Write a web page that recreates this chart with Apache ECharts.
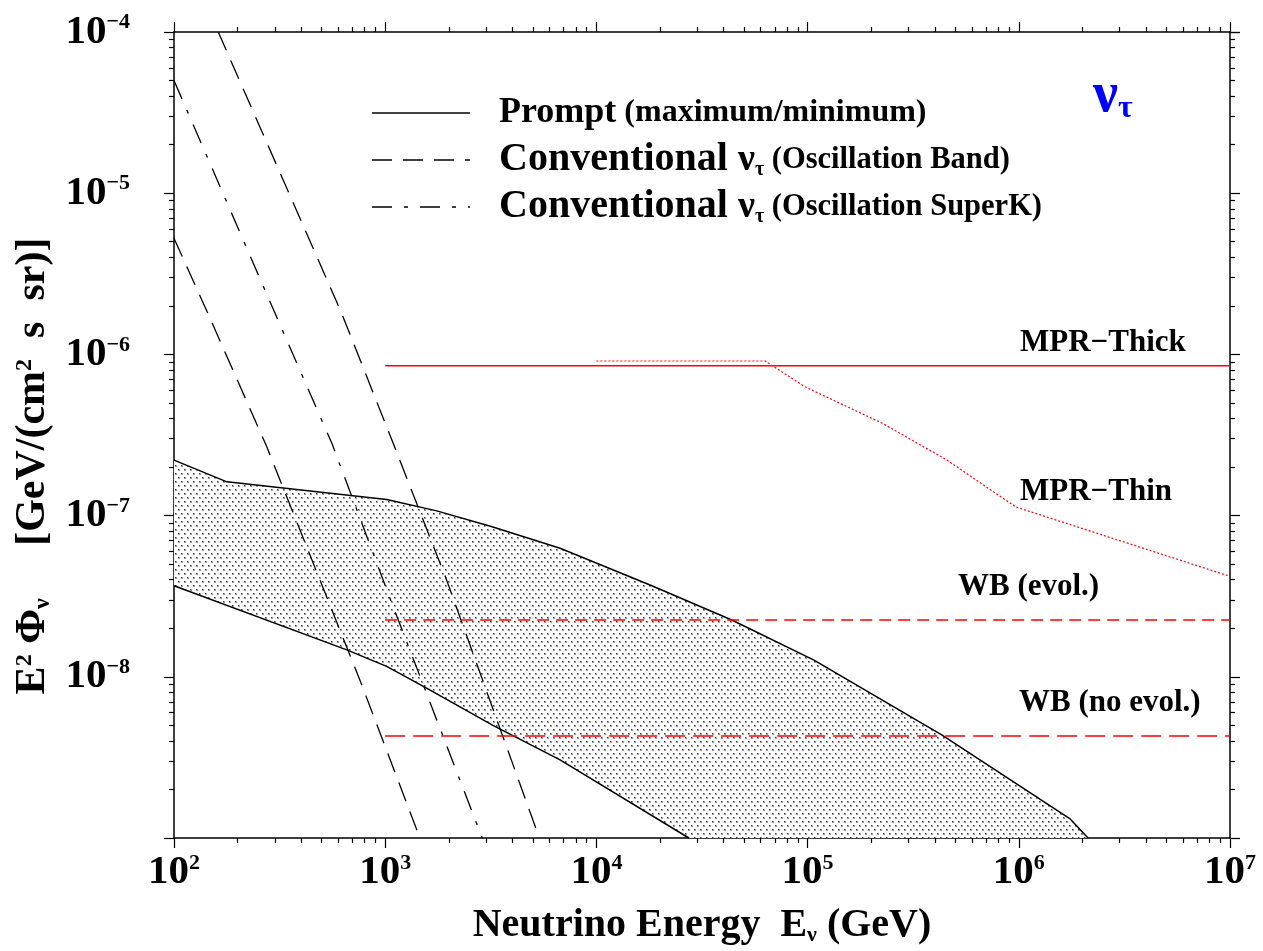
<!DOCTYPE html>
<html>
<head>
<meta charset="utf-8">
<script src="https://cdn.jsdelivr.net/npm/echarts@6/dist/echarts.min.js"></script>
<style>
html,body{margin:0;padding:0;background:#fff;}
#chart{width:1263px;height:951px;}
</style>
</head>
<body>
<div id="chart"></div>
<script>
// ---------------- data ----------------
// Prompt flux band: upper (maximum) and lower (minimum) boundaries
const promptMaxE    = [100, 178, 1016, 1754, 3236, 6730, 17950, 43750, 107200, 431500, 1742000, 2128000];
const promptMaxFlux = [2.21e-7, 1.62e-7, 1.26e-7, 1.07e-7, 8.5e-8, 6.27e-8, 3.71e-8, 2.25e-8, 1.27e-8, 4.36e-9, 1.32e-9, 1.0e-9];
const promptMinE    = [100, 658, 1016, 1570, 3236, 6730, 27400];
const promptMinFlux = [3.67e-8, 1.47e-8, 1.16e-8, 8.5e-9, 5.0e-9, 3.05e-9, 1.0e-9];

// Conventional nu_tau (oscillation band: lower and upper edges)
const convBandLowE     = [100, 148, 275, 760, 1460];
const convBandLowFlux  = [5.25e-6, 1.68e-6, 2.67e-7, 9.5e-9, 1.0e-9];
const convBandHighE    = [162, 622, 1091, 1954, 5370];
const convBandHighFlux = [1.0e-4, 1.8e-6, 2.81e-7, 3.98e-8, 1.0e-9];
// Conventional nu_tau (oscillation SuperK)
const convSuperKE    = [100, 306, 559, 1091, 2880];
const convSuperKFlux = [5.0e-5, 1.71e-6, 2.81e-7, 2.72e-8, 1.0e-9];

// Bounds
const mprThickE    = [1e3, 1e7];
const mprThickFlux = [8.5e-7, 8.5e-7];
const mprThinE     = [1e4, 6.3e4, 9.7e4, 2.25e5, 4.57e5, 9.7e5, 1e7];
const mprThinFlux  = [9.1e-7, 9.1e-7, 6.3e-7, 3.75e-7, 2.21e-7, 1.13e-7, 4.2e-8];
const wbEvolE      = [1e3, 1e7];
const wbEvolFlux   = [2.25e-8, 2.25e-8];
const wbNoEvolE    = [1e3, 1e7];
const wbNoEvolFlux = [4.3e-9, 4.3e-9];

// Axis ranges and minor tick positions (log10 units, 2..9 within each decade)
const xDecades = [2, 3, 4, 5, 6];
const yDecades = [-9, -8, -7, -6, -5];
const minorMultipliers = [2, 3, 4, 5, 6, 7, 8, 9];

// -----------------------------------------------------------------
const FONT = '"Liberation Serif", "Times New Roman", serif';
const pairs = (xs, ys) => xs.map((x, i) => [x, ys[i]]);
const xMinor = [];
xDecades.forEach(d => minorMultipliers.forEach(m => xMinor.push(d + Math.log10(m))));
const yMinor = [];
yDecades.forEach(d => minorMultipliers.forEach(m => yMinor.push(d + Math.log10(m))));

// dotted fill pattern
const tile = document.createElement('canvas');
tile.width = 6; tile.height = 8;
const tc = tile.getContext('2d');
tc.fillStyle = '#ffffff'; tc.fillRect(0, 0, 6, 8);
function dot(x, y) {
  tc.fillStyle = '#9a9a9a'; tc.fillRect(x, y, 2, 2);
  tc.fillStyle = '#3c3c3c'; tc.fillRect(x, y, 1, 1);
}
dot(1, 1); dot(4, 5);
const pattern = { image: tile, repeat: 'repeat' };

const chart = echarts.init(document.getElementById('chart'), null, { renderer: 'canvas' });

const axisLineStyle = { color: '#000', width: 1.5 };
const tickStyle = { color: '#000', width: 1.2 };

function majorLogAxis(pos, min, max, extra) {
  return Object.assign({
    type: 'log', logBase: 10, min: min, max: max, position: pos,
    axisLine: { show: true, onZero: false, lineStyle: axisLineStyle },
    axisTick: { show: true, inside: false, length: 10, lineStyle: tickStyle },
    minorTick: { show: false },
    splitLine: { show: false },
    minorSplitLine: { show: false },
    axisLabel: { show: false }
  }, extra || {});
}
function minorValueAxis(pos, min, max, ticks) {
  return {
    type: 'value', min: min, max: max, position: pos,
    axisLine: { show: false, onZero: false },
    axisTick: { show: true, inside: false, length: 5, lineStyle: tickStyle, customValues: ticks },
    axisLabel: { show: false },
    splitLine: { show: false }
  };
}

const labelRich = {
  b: { fontFamily: FONT, fontWeight: 'bold', fontSize: 41, color: '#000' },
  s: { fontFamily: FONT, fontWeight: 'bold', fontSize: 22, color: '#000', verticalAlign: 'top' }
};

const option = {
  animation: false,
  backgroundColor: '#fff',
  grid: { left: 174, right: 33, top: 32, bottom: 113, containLabel: false, outerBoundsMode: 'none' },
  xAxis: [
    majorLogAxis('bottom', 100, 1e7, {
      axisLabel: {
        show: true, margin: 14,
        formatter: v => '{b|10}{s|' + Math.round(Math.log10(v)) + '}',
        rich: labelRich
      },
      name: '{a|Neutrino Energy  E}{u|ν}{a| (GeV)}',
      nameLocation: 'middle', nameGap: 68,
      nameTextStyle: {
        rich: {
          a: { fontFamily: FONT, fontWeight: 'bold', fontSize: 40, color: '#000' },
          u: { fontFamily: FONT, fontWeight: 'bold', fontSize: 22, color: '#000', verticalAlign: 'bottom' }
        }
      }
    }),
    minorValueAxis('bottom', 2, 7, xMinor),
    majorLogAxis('top', 100, 1e7),
    minorValueAxis('top', 2, 7, xMinor)
  ],
  yAxis: [
    majorLogAxis('left', 1e-9, 1e-4, {
      axisLabel: {
        show: true, margin: 44,
        formatter: v => {
          const e = Math.round(Math.log10(v));
          if (e === -9) return '';
          return '{b|10}{s|\u2212' + (-e) + '}';
        },
        rich: labelRich
      },
      name: '{a|E}{s|2}{a| Φ}{u|ν}{a|     [GeV/(cm}{s|2}{a|  s  sr)]}',
      nameLocation: 'middle', nameGap: 110, nameRotate: 90,
      nameTextStyle: {
        padding: [0, 62, 0, 0],
        rich: {
          a: { fontFamily: FONT, fontWeight: 'bold', fontSize: 42, color: '#000' },
          s: { fontFamily: FONT, fontWeight: 'bold', fontSize: 24, color: '#000', verticalAlign: 'top' },
          u: { fontFamily: FONT, fontWeight: 'bold', fontSize: 24, color: '#000', verticalAlign: 'bottom' }
        }
      }
    }),
    minorValueAxis('left', -9, -4, yMinor),
    majorLogAxis('right', 1e-9, 1e-4),
    minorValueAxis('right', -9, -4, yMinor)
  ],
  series: [
    {
      name: 'Prompt band', type: 'custom', xAxisIndex: 0, yAxisIndex: 0, z: 1,
      data: [[promptMaxE[0], promptMaxFlux[0]]],
      renderItem: (params, api) => {
        const pts = [];
        promptMaxE.forEach((e, i) => pts.push(api.coord([e, promptMaxFlux[i]])));
        for (let i = promptMinE.length - 1; i >= 0; i--) pts.push(api.coord([promptMinE[i], promptMinFlux[i]]));
        return { type: 'polygon', shape: { points: pts }, style: { fill: pattern, stroke: null } };
      }
    },
    { name: 'Prompt max', type: 'line', xAxisIndex: 0, yAxisIndex: 0, z: 3, symbol: 'none',
      data: pairs(promptMaxE, promptMaxFlux), lineStyle: { color: '#000', width: 1.5 } },
    { name: 'Prompt min', type: 'line', xAxisIndex: 0, yAxisIndex: 0, z: 3, symbol: 'none',
      data: pairs(promptMinE, promptMinFlux), lineStyle: { color: '#000', width: 1.5 } },
    { name: 'Conv band low', type: 'line', xAxisIndex: 0, yAxisIndex: 0, z: 3, symbol: 'none',
      data: pairs(convBandLowE, convBandLowFlux), lineStyle: { color: '#000', width: 1.3, type: [20, 11] } },
    { name: 'Conv band high', type: 'line', xAxisIndex: 0, yAxisIndex: 0, z: 3, symbol: 'none',
      data: pairs(convBandHighE, convBandHighFlux), lineStyle: { color: '#000', width: 1.3, type: [20, 11] } },
    { name: 'Conv SuperK', type: 'line', xAxisIndex: 0, yAxisIndex: 0, z: 3, symbol: 'none',
      data: pairs(convSuperKE, convSuperKFlux), lineStyle: { color: '#000', width: 1.3, type: [20, 12, 4, 12] } },
    { name: 'MPR-Thick', type: 'line', xAxisIndex: 0, yAxisIndex: 0, z: 4, symbol: 'none',
      data: pairs(mprThickE, mprThickFlux), lineStyle: { color: '#ff0000', width: 1.5 } },
    { name: 'MPR-Thin', type: 'line', xAxisIndex: 0, yAxisIndex: 0, z: 4, symbol: 'none',
      data: pairs(mprThinE, mprThinFlux), lineStyle: { color: '#ff0000', width: 1.2, type: [2, 2] } },
    { name: 'WB (evol.)', type: 'line', xAxisIndex: 0, yAxisIndex: 0, z: 4, symbol: 'none',
      data: pairs(wbEvolE, wbEvolFlux), lineStyle: { color: '#ff0000', width: 1.5, type: [12, 7] } },
    { name: 'WB (no evol.)', type: 'line', xAxisIndex: 0, yAxisIndex: 0, z: 4, symbol: 'none',
      data: pairs(wbNoEvolE, wbNoEvolFlux), lineStyle: { color: '#ff0000', width: 1.5, type: [20, 8] } }
  ],
  graphic: [
    // legend samples
    { type: 'line', shape: { x1: 372, y1: 113, x2: 470, y2: 113 }, style: { stroke: '#000', lineWidth: 1.5 } },
    { type: 'line', shape: { x1: 372, y1: 160, x2: 470, y2: 160 }, style: { stroke: '#000', lineWidth: 1.3, lineDash: [20, 11] } },
    { type: 'line', shape: { x1: 372, y1: 207, x2: 470, y2: 207 }, style: { stroke: '#000', lineWidth: 1.3, lineDash: [20, 12, 4, 12] } },
    { type: 'text', x: 499, y: 113, style: {
        text: '{a|Prompt}{b| (maximum/minimum)}', verticalAlign: 'middle', align: 'left',
        rich: {
          a: { fontFamily: FONT, fontWeight: 'bold', fontSize: 36, fill: '#000' },
          b: { fontFamily: FONT, fontWeight: 'bold', fontSize: 32, fill: '#000' }
        } } },
    { type: 'text', x: 499, y: 160, style: {
        text: '{a|Conventional }{n|ν}{t|τ}{b| (Oscillation Band)}', verticalAlign: 'middle', align: 'left',
        rich: {
          a: { fontFamily: FONT, fontWeight: 'bold', fontSize: 40, fill: '#000' },
          n: { fontFamily: FONT, fontWeight: 'bold', fontSize: 38, fill: '#000' },
          t: { fontFamily: FONT, fontWeight: 'bold', fontSize: 20, fill: '#000', verticalAlign: 'bottom' },
          b: { fontFamily: FONT, fontWeight: 'bold', fontSize: 30.5, fill: '#000' }
        } } },
    { type: 'text', x: 499, y: 207, style: {
        text: '{a|Conventional }{n|ν}{t|τ}{b| (Oscillation SuperK)}', verticalAlign: 'middle', align: 'left',
        rich: {
          a: { fontFamily: FONT, fontWeight: 'bold', fontSize: 40, fill: '#000' },
          n: { fontFamily: FONT, fontWeight: 'bold', fontSize: 38, fill: '#000' },
          t: { fontFamily: FONT, fontWeight: 'bold', fontSize: 20, fill: '#000', verticalAlign: 'bottom' },
          b: { fontFamily: FONT, fontWeight: 'bold', fontSize: 30.5, fill: '#000' }
        } } },
    // nu_tau flavour tag
    { type: 'text', x: 1093, y: 97, style: {
        text: '{n|ν}{t|τ}', verticalAlign: 'middle', align: 'left',
        rich: {
          n: { fontFamily: FONT, fontWeight: 'bold', fontSize: 56, fill: '#0000ff' },
          t: { fontFamily: FONT, fontWeight: 'bold', fontSize: 32, fill: '#0000ff', verticalAlign: 'bottom' }
        } } },
    // curve labels
    { type: 'text', x: 1020, y: 343, style: { text: 'MPR\u2212Thick', fill: '#000', font: 'bold 31px ' + FONT, verticalAlign: 'middle', align: 'left' } },
    { type: 'text', x: 1020, y: 492, style: { text: 'MPR\u2212Thin', fill: '#000', font: 'bold 31px ' + FONT, verticalAlign: 'middle', align: 'left' } },
    { type: 'text', x: 958, y: 587, style: { text: 'WB (evol.)', fill: '#000', font: 'bold 31px ' + FONT, verticalAlign: 'middle', align: 'left' } },
    { type: 'text', x: 1019, y: 703, style: { text: 'WB (no evol.)', fill: '#000', font: 'bold 31px ' + FONT, verticalAlign: 'middle', align: 'left' } }
  ]
};

chart.setOption(option);
</script>
</body>
</html>
